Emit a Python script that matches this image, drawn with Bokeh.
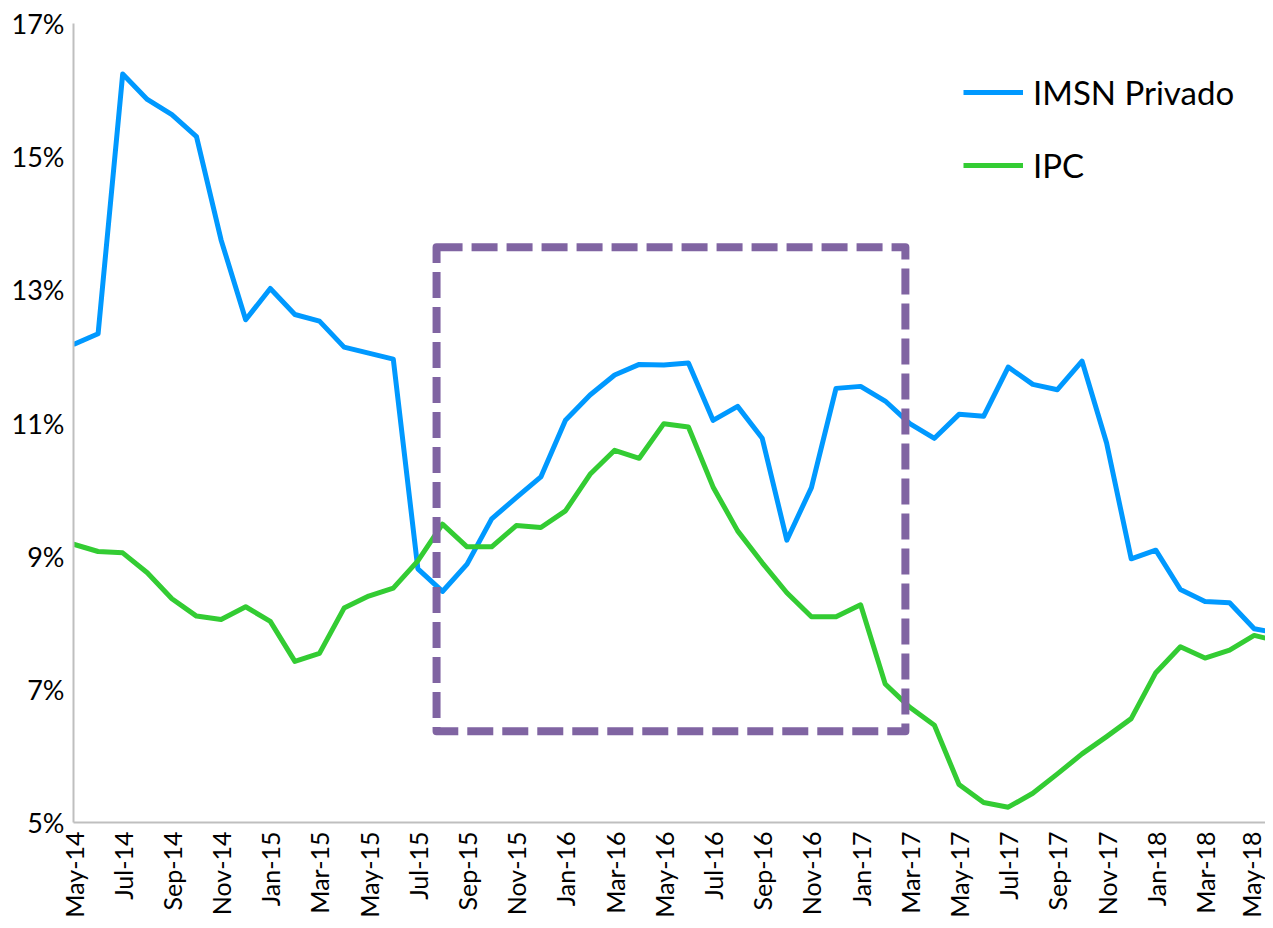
import math
from bokeh.plotting import figure
from bokeh.models import FixedTicker, Legend, LegendItem, BoxAnnotation, Range1d
from bokeh.embed import file_html
from bokeh.resources import INLINE

months = ["May-14", "Jun-14", "Jul-14", "Aug-14", "Sep-14", "Oct-14", "Nov-14", "Dec-14",
          "Jan-15", "Feb-15", "Mar-15", "Apr-15", "May-15", "Jun-15", "Jul-15", "Aug-15",
          "Sep-15", "Oct-15", "Nov-15", "Dec-15", "Jan-16", "Feb-16", "Mar-16", "Apr-16",
          "May-16", "Jun-16", "Jul-16", "Aug-16", "Sep-16", "Oct-16", "Nov-16", "Dec-16",
          "Jan-17", "Feb-17", "Mar-17", "Apr-17", "May-17", "Jun-17", "Jul-17", "Aug-17",
          "Sep-17", "Oct-17", "Nov-17", "Dec-17", "Jan-18", "Feb-18", "Mar-18", "Apr-18",
          "May-18", "Jun-18"]

imsn_privado = [12.18, 12.34, 16.24, 15.86, 15.63, 15.30, 13.75, 12.55, 13.02, 12.63, 12.53, 12.14,
                12.05, 11.96, 8.81, 8.47, 8.88, 9.56, 9.88, 10.19, 11.04, 11.42, 11.72, 11.88,
                11.87, 11.90, 11.04, 11.25, 10.77, 9.24, 10.03, 11.52, 11.55, 11.33, 10.99, 10.77,
                11.13, 11.10, 11.84, 11.58, 11.50, 11.93, 10.70, 8.96, 9.09, 8.50, 8.32, 8.30,
                7.91, 7.84]

ipc = [9.18, 9.07, 9.05, 8.75, 8.36, 8.10, 8.05, 8.24, 8.02, 7.42, 7.54, 8.22,
       8.40, 8.52, 8.93, 9.48, 9.14, 9.14, 9.46, 9.43, 9.68, 10.23, 10.59, 10.47,
       10.99, 10.94, 10.04, 9.38, 8.90, 8.45, 8.09, 8.09, 8.27, 7.08, 6.73, 6.46,
       5.57, 5.30, 5.23, 5.44, 5.73, 6.03, 6.29, 6.56, 7.25, 7.64, 7.47, 7.59,
       7.81, 7.72]

y_ticks = [5, 7, 9, 11, 13, 15, 17]
y_tick_labels = ["5%", "7%", "9%", "11%", "13%", "15%", "17%"]

# highlighted period (dashed box), in month-index / percent units
box_left, box_right, box_bottom, box_top = 14.76, 33.82, 6.37, 13.64

x = list(range(len(months)))

FONT = "Lato"
BLUE = "#0099FF"
GREEN = "#33CC33"
PURPLE = "#8064A2"
AXIS_GREY = "#BFBFBF"

p = figure(width=1265, height=920, output_backend="svg", toolbar_location=None,
           x_range=Range1d(0, 48.46), y_range=Range1d(5, 17),
           min_border_left=73, min_border_top=23, min_border_right=0, min_border_bottom=98)

p.grid.visible = False
p.outline_line_color = None
p.background_fill_color = "white"
p.border_fill_color = "white"

r_imsn = p.line(x, imsn_privado, line_color=BLUE, line_width=5, line_join="round")
r_ipc = p.line(x, ipc, line_color=GREEN, line_width=5, line_join="round")

box = BoxAnnotation(left=box_left, right=box_right, bottom=box_bottom, top=box_top,
                    fill_color=None, fill_alpha=0, line_color=PURPLE, line_alpha=1.0,
                    line_width=8, line_dash="26 9", line_join="round")
p.add_layout(box)

# x axis
xa = p.xaxis[0]
xa.ticker = FixedTicker(ticks=x[::2])
xa.major_label_overrides = {i: months[i] for i in x[::2]}
xa.major_label_orientation = math.pi / 2
xa.major_tick_line_color = None
xa.minor_tick_line_color = None
xa.axis_line_color = AXIS_GREY
xa.axis_line_width = 2
xa.major_label_text_font = FONT
xa.major_label_text_font_size = "25px"
xa.major_label_text_color = "#000000"
xa.major_label_standoff = 3

# y axis
ya = p.yaxis[0]
ya.ticker = FixedTicker(ticks=y_ticks)
ya.major_label_overrides = {t: l for t, l in zip(y_ticks, y_tick_labels)}
ya.major_tick_line_color = None
ya.minor_tick_line_color = None
ya.axis_line_color = AXIS_GREY
ya.axis_line_width = 2
ya.major_label_text_font = FONT
ya.major_label_text_font_size = "27px"
ya.major_label_text_color = "#000000"
ya.major_label_standoff = 3

legend = Legend(items=[LegendItem(label="IMSN Privado", renderers=[r_imsn]),
                       LegendItem(label="IPC", renderers=[r_ipc])],
                location=(890, 637))
legend.border_line_color = None
legend.background_fill_alpha = 0
legend.label_text_font = FONT
legend.label_text_font_size = "33px"
legend.label_text_color = "#000000"
legend.glyph_width = 60
legend.glyph_height = 40
legend.label_height = 40
legend.spacing = 33
legend.padding = 0
legend.margin = 0
legend.label_standoff = 10
p.add_layout(legend, "center")

open("out.html", "w").write(file_html(p, INLINE))
